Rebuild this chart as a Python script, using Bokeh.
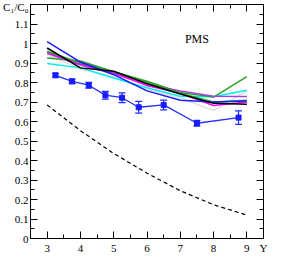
from bokeh.plotting import figure
from bokeh.models import Range1d, LinearAxis, FixedTicker, ColumnDataSource, Whisker, TeeHead, Label
from bokeh.embed import file_html
from bokeh.resources import INLINE

# ---- data ----
x_model = [3, 4, 5, 6, 7, 8, 9]
gray_y = [0.942, 0.870, 0.830, 0.765, 0.720, 0.656, 0.757]
cyan_y = [0.897, 0.875, 0.823, 0.773, 0.730, 0.727, 0.760]
green_y = [0.926, 0.910, 0.855, 0.806, 0.749, 0.725, 0.830]
violet_y = [0.950, 0.890, 0.845, 0.790, 0.757, 0.730, 0.728]
magenta_y = [0.955, 0.895, 0.850, 0.785, 0.745, 0.682, 0.700]
green2_y = [0.960, 0.900, 0.855, 0.800, 0.745, 0.700, 0.709]
blue_y = [1.010, 0.905, 0.840, 0.757, 0.709, 0.700, 0.705]
black_y = [0.977, 0.875, 0.858, 0.794, 0.741, 0.693, 0.688]

x_exp = [3.25, 3.75, 4.25, 4.75, 5.25, 5.75, 6.5, 7.5, 8.75]
y_exp = [0.837, 0.806, 0.786, 0.735, 0.722, 0.673, 0.685, 0.591, 0.620]
err_exp = [0.010, 0.012, 0.015, 0.020, 0.025, 0.030, 0.025, 0.015, 0.035]

x_dash = [3, 4, 5, 6, 7, 8, 9]
y_dash = [0.685, 0.553, 0.436, 0.335, 0.245, 0.173, 0.120]

x_ticks = [3, 4, 5, 6, 7, 8, 9, 9.5]
x_tick_labels = ["3", "4", "5", "6", "7", "8", "9", "Y"]
y_ticks = [0, 0.1, 0.2, 0.3, 0.4, 0.5, 0.6, 0.7, 0.8, 0.9, 1, 1.1, 1.2]
y_tick_labels = ["0", "0.1", "0.2", "0.3", "0.4", "0.5", "0.6", "0.7", "0.8", "0.9", "1", "1.1",
                 "C\u2081/C\u2080"]
x_minor = [2.5, 3.5, 4.5, 5.5, 6.5, 7.5, 8.5]
y_minor = [0.05, 0.15, 0.25, 0.35, 0.45, 0.55, 0.65, 0.75, 0.85, 0.95, 1.05, 1.15]

FONT = "Liberation Serif"

p = figure(frame_width=233, frame_height=234, output_backend="svg", toolbar_location=None,
           x_range=Range1d(2.5, 9.5), y_range=Range1d(0, 1.2),
           x_axis_location=None, y_axis_location=None,
           min_border_left=0, min_border_right=5, min_border_top=4, min_border_bottom=0)
p.grid.visible = False
p.outline_line_color = "black"
p.outline_line_width = 1
p.background_fill_color = "white"
p.border_fill_color = "white"

xt = FixedTicker(ticks=x_ticks, minor_ticks=x_minor)
yt = FixedTicker(ticks=y_ticks, minor_ticks=y_minor)

def style(ax, labels):
    ax.axis_line_color = "black"
    ax.major_tick_line_color = "black"
    ax.minor_tick_line_color = "black"
    ax.major_tick_in = 7
    ax.major_tick_out = 0
    ax.minor_tick_in = 4
    ax.minor_tick_out = 0
    ax.axis_label_standoff = 0
    ax.major_label_text_font = FONT
    ax.major_label_text_color = "black"
    if labels:
        ax.major_label_text_font_size = "11px"
        ax.major_label_standoff = 3
    else:
        ax.major_label_text_font_size = "1px"
        ax.major_label_standoff = 0

bottom = LinearAxis(ticker=xt,
                    major_label_overrides={t: l for t, l in zip(x_ticks, x_tick_labels)})
style(bottom, True)
left = LinearAxis(ticker=yt,
                  major_label_overrides={t: l for t, l in zip(y_ticks, y_tick_labels)})
style(left, True)
left.major_label_standoff = 2
top = LinearAxis(ticker=xt, major_label_overrides={t: "" for t in x_ticks})
style(top, False)
right = LinearAxis(ticker=yt, major_label_overrides={t: "" for t in y_ticks})
style(right, False)
p.add_layout(bottom, "below")
p.add_layout(left, "left")
p.add_layout(top, "above")
p.add_layout(right, "right")

series = [
    (gray_y, "#dedede"),
    (cyan_y, "#00f0f0"),
    (green_y, "#2aa02a"),
    (violet_y, "#a040e0"),
    (magenta_y, "#ff00ff"),
    (green2_y, "#22aa22"),
    (blue_y, "#1a1aff"),
    (black_y, "black"),
]
for ys, c in series:
    p.line(x_model, ys, line_color=c, line_width=1.5)

p.line(x_dash, y_dash, line_color="black", line_width=1.2, line_dash="4 3")

src = ColumnDataSource(dict(x=x_exp, y=y_exp,
                            upper=[a + b for a, b in zip(y_exp, err_exp)],
                            lower=[a - b for a, b in zip(y_exp, err_exp)]))
p.line("x", "y", source=src, line_color="#2030ff", line_width=1.3)
p.scatter("x", "y", source=src, marker="square", size=5, color="#1a1aff")
wh = Whisker(source=src, base="x", upper="upper", lower="lower",
             line_color="#2030ff", line_width=1.2,
             upper_head=TeeHead(size=7, line_color="#2030ff", line_width=1.2),
             lower_head=TeeHead(size=7, line_color="#2030ff", line_width=1.2))
p.add_layout(wh)

p.add_layout(Label(x=7.5, y=1.025, text="PMS", text_font=FONT, text_font_size="12px",
                   text_align="center", text_baseline="middle", text_color="black"))

open("out.html", "w").write(file_html(p, INLINE))
